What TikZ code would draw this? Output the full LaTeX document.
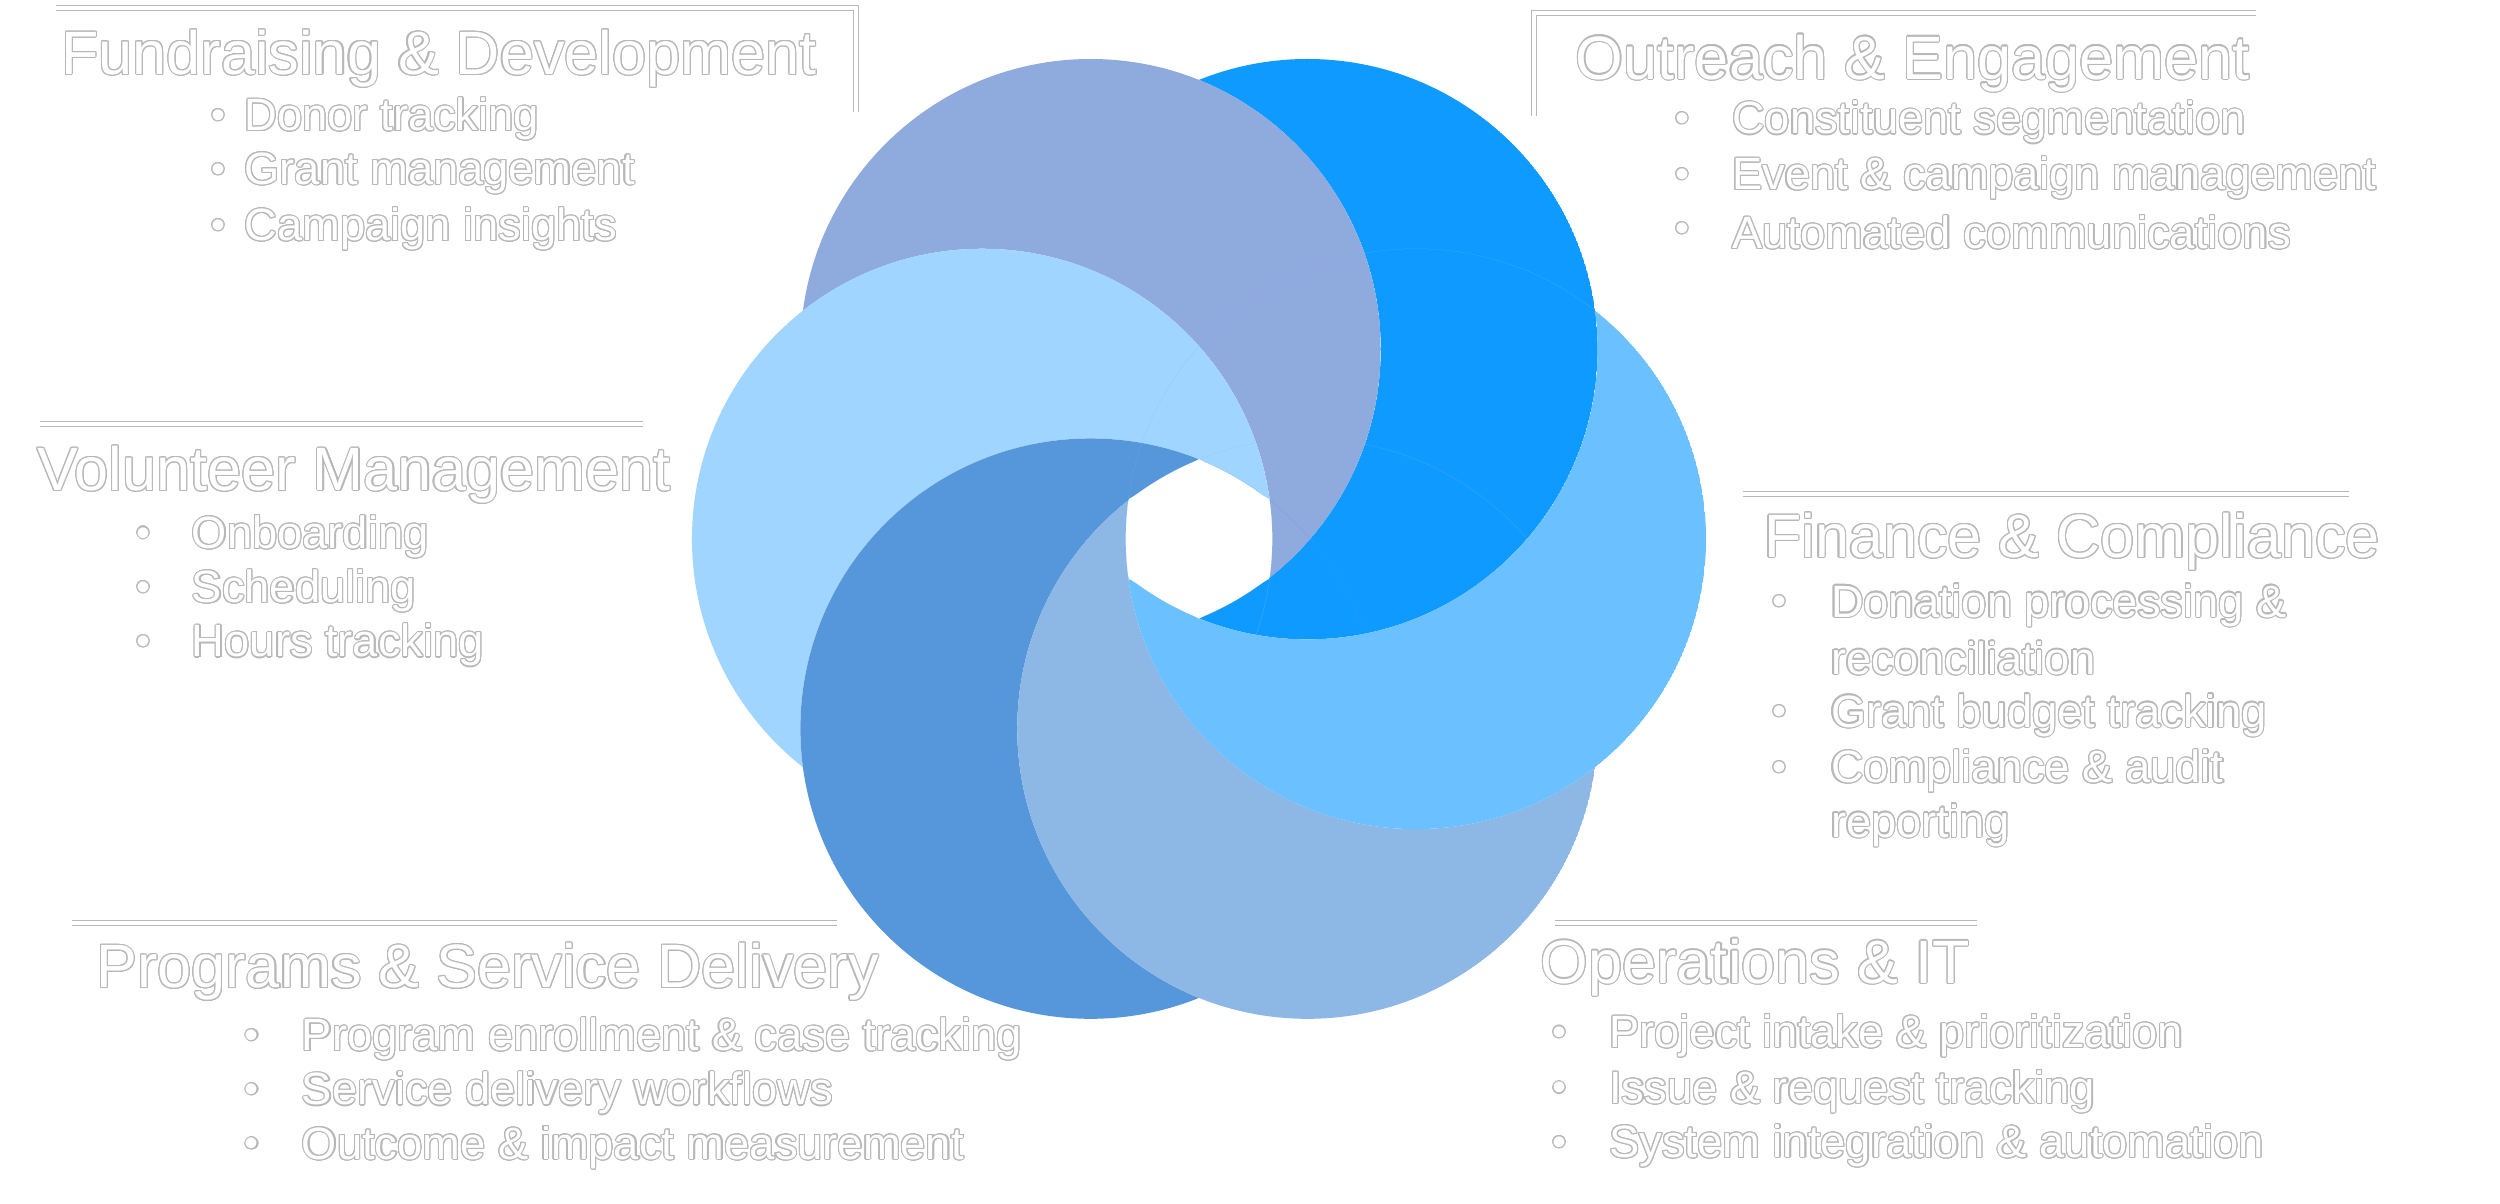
\documentclass[tikz,border=0pt]{standalone}
\usepackage{fontspec}
\setmainfont{Liberation Sans}
\usepackage{contour}
\contourlength{0.35pt}
\contournumber{20}
\newcommand{\ol}[1]{\contour{black!28}{\textcolor{white}{#1}}}
\definecolor{cA}{HTML}{0F9AFF}
\definecolor{cB}{HTML}{8FAADC}
\definecolor{cC}{HTML}{A0D5FF}
\definecolor{cD}{HTML}{5597DA}
\definecolor{cE}{HTML}{8DB7E5}
\definecolor{cF}{HTML}{6BC0FF}
\tikzset{
 ttl/.style={anchor=west,inner sep=0pt,font=\fontsize{19.2}{22}\selectfont},
 itm/.style={anchor=west,inner sep=0pt,font=\fontsize{14.2}{17}\selectfont},
 bul/.style={anchor=center,inner sep=0pt,font=\fontsize{12.5}{15}\selectfont},
 rule/.style={draw=black!28,double=white,double distance=1.2pt,line width=0.4pt}
}
\newcommand{\piece}[3]{\begin{scope}\clip (#1) circle[radius=\R];
\fill[#3,even odd rule] (#1) circle[radius=\R] (#2) circle[radius=\R];\end{scope}}
\begin{document}
\begin{tikzpicture}[x=0.5pt,y=-0.5pt]
\useasboundingbox (0,0) rectangle (1568,755);
\def\R{182}
\coordinate (ca) at (820,219);
\coordinate (cb) at (684,219);
\coordinate (cc) at (616,338);
\coordinate (cd) at (684,457);
\coordinate (ce) at (820,457);
\coordinate (cf) at (888,338);
\piece{ca}{cb}{cA}
\piece{cb}{cc}{cB}
\piece{cc}{cd}{cC}
\piece{cd}{ce}{cD}
\piece{ce}{cf}{cE}
\piece{cf}{ca}{cF}
\fill[white] (752,288) -- (796,313) -- (796,363) -- (752,388) -- (708,363) -- (708,313) -- cycle;
% rules
\draw[rule] (35,5) -- (537,5) -- (537,70);
\draw[rule] (1415,8) -- (962,8) -- (962,73);
\draw[rule] (25,266) -- (403,266);
\draw[rule] (1093,310) -- (1473,310);
\draw[rule] (45,579) -- (525,579);
\draw[rule] (975,579) -- (1240,579);
% Fundraising
\node[ttl] (t1) at (38,37) {\ol{Fundraising \& Development}};
\foreach \y/\t [count=\i] in {75/Donor tracking,109/Grant management,144/Campaign insights}{
 \node[bul] (b1\i) at (137,\y) {\ol{•}};
 \node[itm] (i1\i) at (153,\y) {\ol{\t}};}
% Outreach
\node[ttl] (t2) at (988,40) {\ol{Outreach \& Engagement}};
\foreach \y/\t [count=\i] in {77/Constituent segmentation,112/Event \& campaign management,146/Automated communications}{
 \node[bul] (b2\i) at (1055,\y) {\ol{•}};
 \node[itm] (i2\i) at (1086,\y) {\ol{\t}};}
% Volunteer
\node[ttl] (t3) at (23,298) {\ol{Volunteer Management}};
\foreach \y/\t [count=\i] in {337/Onboarding,371/Scheduling,405/Hours tracking}{
 \node[bul] (b3\i) at (90,\y) {\ol{•}};
 \node[itm] (i3\i) at (120,\y) {\ol{\t}};}
% Finance
\node[ttl] (t4) at (1106,340) {\ol{Finance \& Compliance}};
\foreach \y in {380,449,484}{\node[bul] at (1116,\y) {\ol{•}};}
\node[itm] (i41) at (1148,380) {\ol{Donation processing \&}};
\node[itm] (i41b) at (1148,413) {\ol{reconciliation}};
\node[itm] (i42) at (1148,449) {\ol{Grant budget tracking}};
\node[itm] (i43) at (1148,484) {\ol{Compliance \& audit}};
\node[itm] (i43b) at (1148,518) {\ol{reporting}};
% Programs
\node[ttl] (t5) at (60,610) {\ol{Programs \& Service Delivery}};
\foreach \y/\t [count=\i] in {652/Program enrollment \& case tracking,686/Service delivery workflows,720/Outcome \& impact measurement}{
 \node[bul] (b5\i) at (158,\y) {\ol{•}};
 \node[itm] (i5\i) at (189,\y) {\ol{\t}};}
% Operations
\node[ttl] (t6) at (966,607) {\ol{Operations \& IT}};
\foreach \y/\t [count=\i] in {650/Project intake \& prioritization,685/Issue \& request tracking,719/System integration \& automation}{
 \node[bul] (b6\i) at (978,\y) {\ol{•}};
 \node[itm] (i6\i) at (1009,\y) {\ol{\t}};}
\end{tikzpicture}
\end{document}
